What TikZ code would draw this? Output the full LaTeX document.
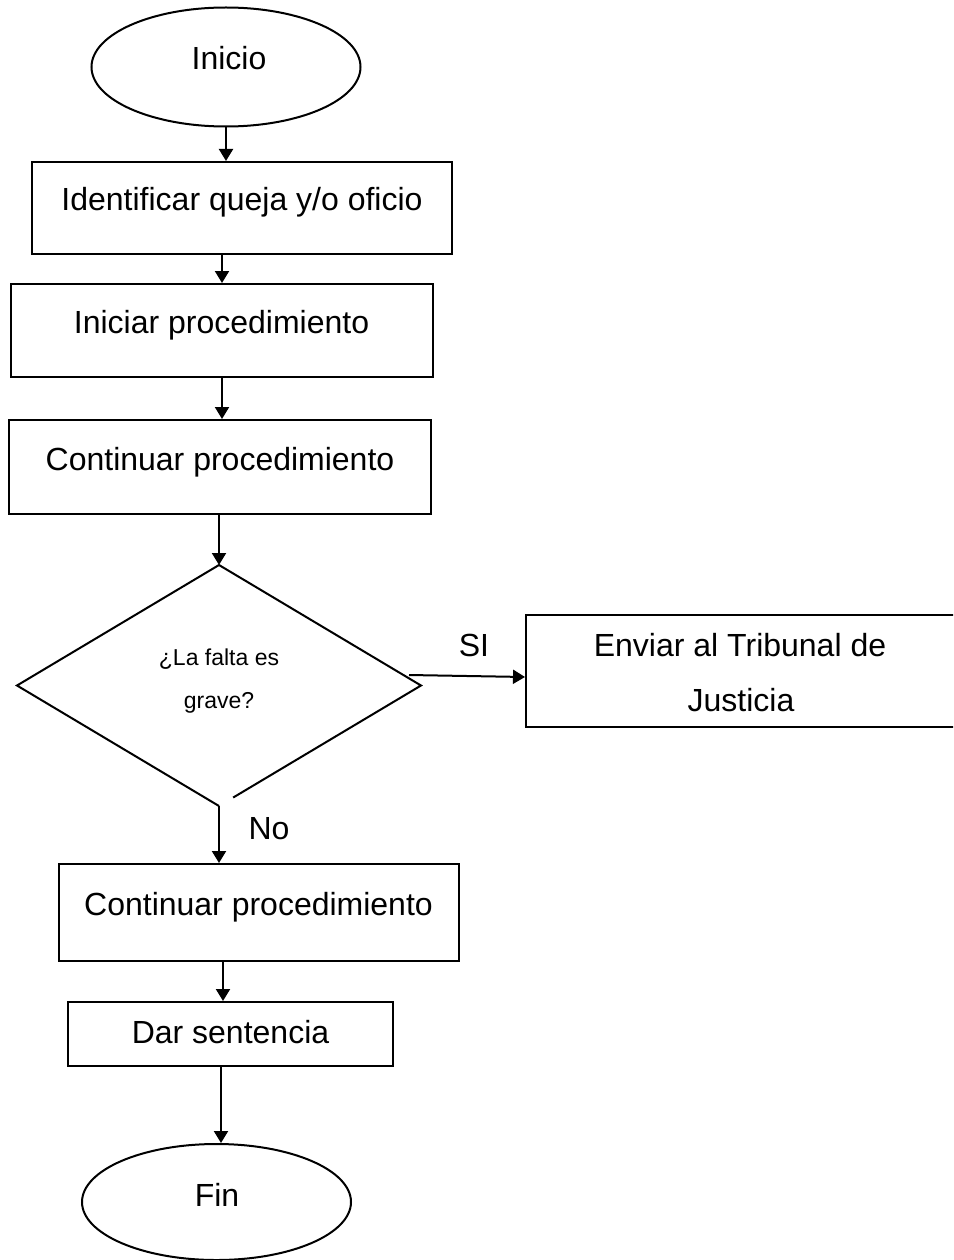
\documentclass[tikz,border=0pt]{standalone}
\usepackage{fontspec}
\setmainfont{Liberation Sans}
\usetikzlibrary{shapes.geometric,arrows.meta,calc}
\begin{document}
\begin{tikzpicture}[x=1pt,y=-1pt,
  line width=2pt,
  boxst/.style={draw, rectangle, inner sep=0pt},
  ovalst/.style={draw, ellipse, inner sep=0pt},
  txt/.style={anchor=base, inner sep=0pt, font=\fontsize{32}{38}\selectfont},
  smalltxt/.style={anchor=base, inner sep=0pt, font=\fontsize{23}{28}\selectfont},
  arr/.style={-{Triangle[length=12pt,width=14pt]}, line width=2pt}]
\useasboundingbox (0,0) rectangle (953,1260);
\clip (0,0) rectangle (953,1260);

% start
\node[ovalst, minimum width=269pt, minimum height=119pt] (inicio) at (226,67) {};
\node[txt] (tinicio) at (229,70) {Inicio};

% boxes
\node[boxst, minimum width=420pt, minimum height=92pt] (b1) at (242,208) {};
\node[txt] (t1) at (242,210) {Identificar queja y/o oficio};

\node[boxst, minimum width=422pt, minimum height=93pt] (b2) at (222,330.5) {};
\node[txt] (t2) at (221.5,333) {Iniciar procedimiento};

\node[boxst, minimum width=422pt, minimum height=94pt] (b3) at (220,467) {};
\node[txt] (t3) at (220,470) {Continuar procedimiento};

% decision
\node[diamond, minimum width=404pt, minimum height=241pt, inner sep=0pt, outer sep=0pt, aspect=1.676] (d) at (219,685.5) {};
\draw (d.south) -- (d.west) -- (d.north) -- (d.east) -- ($(d.east)!0.93!(d.south)$);
\node[smalltxt] (td1) at (219,665) {¿La falta es};
\node[smalltxt] (td2) at (219,708) {grave?};

% right branch (box runs off the right edge of the page)
\node[rectangle, inner sep=0pt, outer sep=1pt, minimum width=434pt, minimum height=112pt] (env) at (743,671) {};
\draw ([shift={(0,1)}]env.north east) -- ([shift={(1,1)}]env.north west) -- ([shift={(1,-1)}]env.south west) -- ([shift={(0,-1)}]env.south east);
\node[txt] (te1) at (740,656) {Enviar al Tribunal de};
\node[txt] (te2) at (741,711) {Justicia};

\node[boxst, minimum width=400pt, minimum height=97pt] (b4) at (259,912.5) {};
\node[txt] (t4) at (258.5,915) {Continuar procedimiento};

\node[boxst, minimum width=325pt, minimum height=64pt] (b5) at (230.5,1034) {};
\node[txt] (t5) at (230.5,1043) {Dar sentencia};

\node[ovalst, minimum width=269pt, minimum height=116pt] (fin) at (216.5,1202) {};
\node[txt] (tfin) at (217,1206) {Fin};

% labels
\node[txt] (lsi) at (474,656) {SI};
\node[txt] (lno) at (269,839) {No};

% connectors
\draw[arr] (inicio.south) -- (inicio.south |- b1.north);
\draw[arr] (b2.north |- b1.south) -- (b2.north);
\draw[arr] (b2.south) -- (b2.south |- b3.north);
\draw[arr] (b3.south -| d.north) -- (d.north);
\coordinate (sistart) at (409,675);
\draw[arr] (sistart) -- ($(env.west)+(0,6)$);
\draw[arr] (d.south) -- (d.south |- b4.north);
\draw[arr] ([xshift=-36pt]b4.south) -- ([xshift=-36pt]b4.south |- b5.north);
\draw[arr] ([xshift=-9.5pt]b5.south) -- ([xshift=-9.5pt]b5.south |- fin.north);
\end{tikzpicture}
\end{document}
